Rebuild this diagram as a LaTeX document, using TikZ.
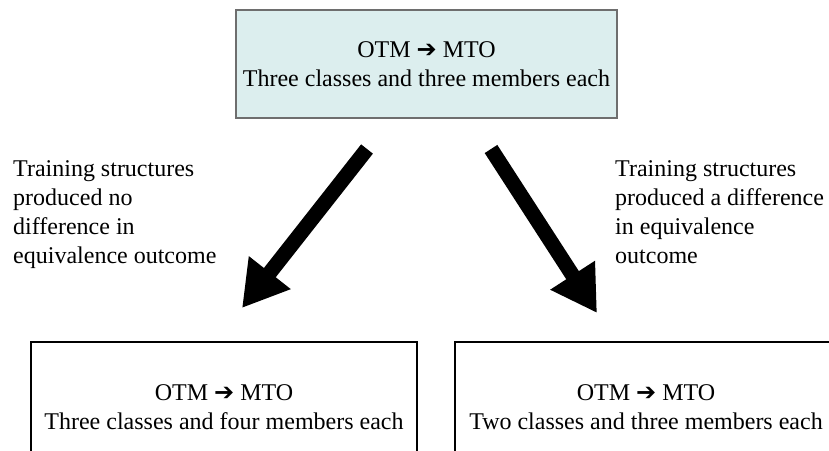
\documentclass[tikz,border=0pt]{standalone}
\usepackage{fontspec}
\setmainfont{Liberation Serif}
\newfontfamily\arrowfont{DejaVu Sans}
\usetikzlibrary{arrows.meta}
\definecolor{boxcyan}{RGB}{220,238,238}
\definecolor{boxgray}{RGB}{110,110,110}
\newcommand{\otmmto}{OTM {\arrowfont\symbol{"2794}} MTO}

\begin{document}
\begin{tikzpicture}[x=1pt,y=-1pt,font=\fontsize{24}{29}\selectfont]
\useasboundingbox (0,0) rectangle (829,450);
\clip (0,0) rectangle (829,450);
\node[draw=boxgray,line width=1.5pt,fill=boxcyan,minimum width=381pt,minimum height=108pt,align=center] (start) at (426.5,64) {\otmmto\\Three classes and three members each};
\node[draw,line width=1.5pt,minimum width=386pt,minimum height=130pt,align=center,anchor=north] (four) at (224,341) {\otmmto\\Three classes and four members each};
\node[draw,line width=1.5pt,minimum width=382pt,minimum height=130pt,align=center,anchor=north] (two) at (646,341) {\otmmto\\Two classes and three members each};
\node[anchor=north west,align=left,inner sep=0pt] (nodiff) at (13,160) {Training structures\\produced no\\difference in\\equivalence outcome};
\node[anchor=north west,align=left,inner sep=0pt] (diff) at (615,160) {Training structures\\produced a difference\\in equivalence\\outcome};
\coordinate (ltail) at (367,149);
\coordinate (lhead) at (242,308);
\coordinate (rtail) at (491,149);
\coordinate (rhead) at (597,313);
\draw[line width=15pt,-{Triangle[length=45pt,width=50pt]}] (ltail) -- (lhead);
\draw[line width=15pt,-{Triangle[length=45pt,width=50pt]}] (rtail) -- (rhead);
\end{tikzpicture}
\end{document}
